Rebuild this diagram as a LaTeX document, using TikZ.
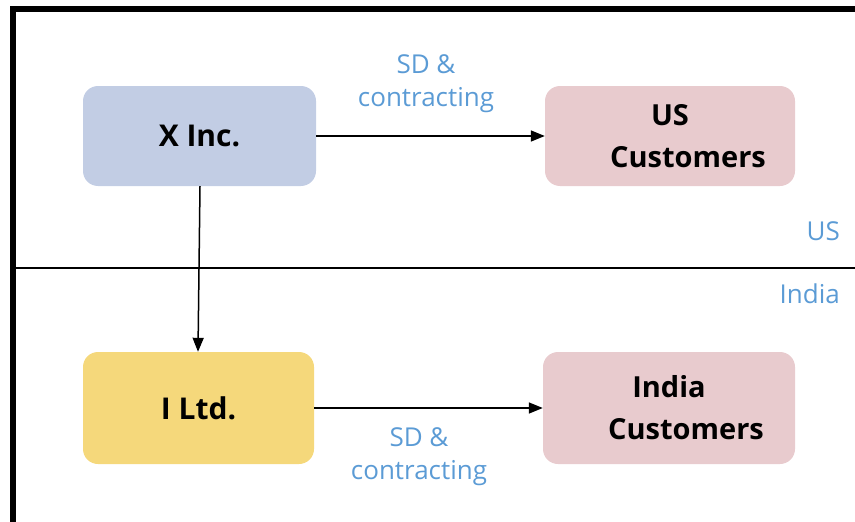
\documentclass[tikz,border=0pt]{standalone}
\usepackage{fontspec}
\setmainfont{Open Sans}
\usetikzlibrary{arrows.meta}
\definecolor{entblue}{HTML}{C2CDE4}
\definecolor{custpink}{HTML}{E8CBCE}
\definecolor{subyellow}{HTML}{F5D87B}
\definecolor{labelblue}{HTML}{5B9BD5}
\tikzset{
  entity/.style={draw=none, rounded corners=15pt, inner sep=0pt,
    font=\fontsize{29}{42}\selectfont\bfseries, align=center},
  flowlabel/.style={text=labelblue, font=\fontsize{26}{33}\selectfont,
    align=center, inner sep=0pt},
  regionlabel/.style={text=labelblue, font=\fontsize{26}{33}\selectfont,
    inner sep=0pt, anchor=base east},
  flow/.style={line width=1.5pt, -{Triangle[length=14pt,width=11pt]}},
}
\begin{document}
\begin{tikzpicture}[x=1pt,y=-1pt]
\useasboundingbox (0,0) rectangle (855,522);
% frame and border between the two countries
\draw[line width=5.5pt] (13,522) -- (13,9) -- (855,9);
\draw[line width=1.6pt] (16,268) -- (855,268);
\node[regionlabel] (uslbl) at (840,240) {US};
\node[regionlabel] (inlbl) at (840,303) {India};
% parties
\node[entity, fill=entblue, minimum width=233pt, minimum height=100pt, font=\fontsize{30}{42}\selectfont\bfseries] (xinc) at (199.5,136) {X Inc.};
\node[entity, fill=custpink, minimum width=250pt, minimum height=100pt] (uscust) at (670,136) {US\\\hspace*{36pt}Customers};
\node[entity, fill=subyellow, minimum width=231pt, minimum height=112pt, font=\fontsize{30}{42}\selectfont\bfseries] (iltd) at (198.5,408) {I Ltd.};
\node[entity, fill=custpink, minimum width=252pt, minimum height=112pt] (incust) at (669,408) {India\\\hspace*{34pt}Customers};
% flows
\draw[flow] (xinc.east) -- (uscust.west);
\draw[flow] ([xshift=0.5pt]xinc.south) -- ([xshift=-0.5pt]iltd.north);
\draw[flow] (iltd.east) -- (incust.west);
\node[flowlabel] (toplbl) at (426,84) {SD \&\\contracting};
\node[flowlabel] (botlbl) at (419,457) {SD \&\\contracting};
\end{tikzpicture}
\end{document}
